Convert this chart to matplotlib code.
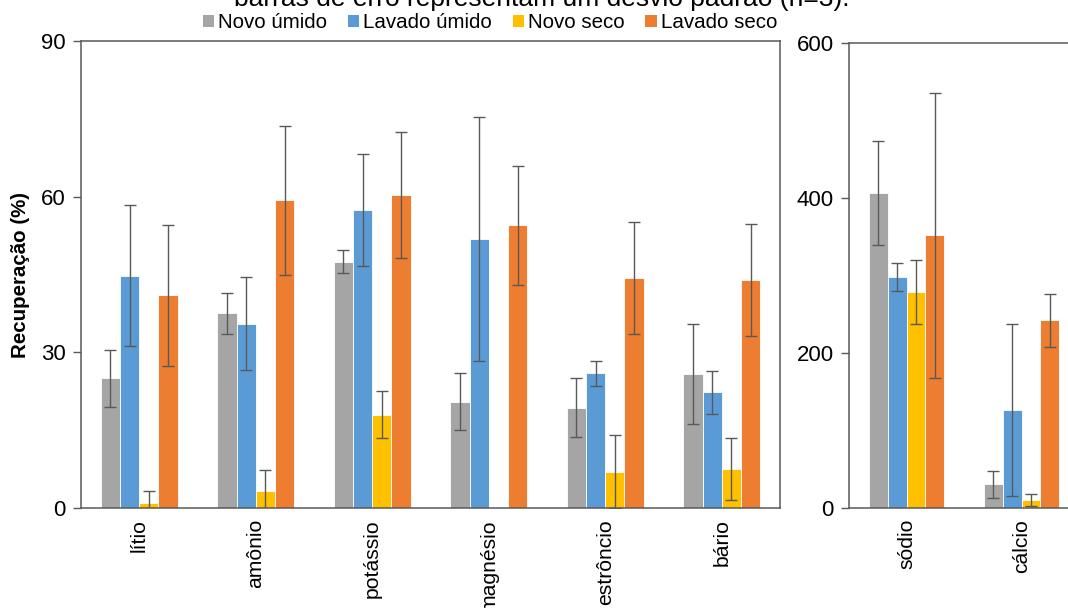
import matplotlib.pyplot as plt
import numpy as np
from matplotlib.patches import Patch

plt.rcParams['font.family'] = ['Liberation Sans', 'DejaVu Sans']

series = ["Novo úmido", "Lavado úmido", "Novo seco", "Lavado seco"]
colors = ["#A5A5A5", "#5B9BD5", "#FFC000", "#ED7D31"]

# left panel: recovery (%) per ion, mean and standard deviation
ions_a = ["lítio", "amônio", "potássio", "magnésio", "estrôncio", "bário"]
mean_a = [
    [25.0, 37.5, 47.5, 20.5, 19.3, 25.8],      # Novo úmido
    [44.8, 35.5, 57.5, 51.8, 26.0, 22.3],      # Lavado úmido
    [1.0, 3.3, 18.0, np.nan, 7.0, 7.5],        # Novo seco
    [41.0, 59.3, 60.3, 54.5, 44.3, 44.0],      # Lavado seco
]
sd_a = [
    [5.5, 4.0, 2.2, 5.5, 5.7, 9.7],
    [13.5, 9.0, 10.8, 23.5, 2.4, 4.1],
    [2.2, 4.1, 4.6, np.nan, 7.0, 5.9],
    [13.6, 14.4, 12.2, 11.5, 10.8, 10.8],
]

# right panel: sodium and calcium on their own scale
ions_b = ["sódio", "cálcio"]
mean_b = [
    [407, 30.5],
    [298, 126],
    [279, 10],
    [352, 242],
]
sd_b = [
    [67, 17.5],
    [18.5, 111],
    [41, 8],
    [184, 34],
]

W, H = 1068, 608
fig = plt.figure(figsize=(W / 100, H / 100), dpi=100)
ax1 = fig.add_axes([81 / W, 1 - 508 / H, 699 / W, 467 / H])
ax2 = fig.add_axes([849 / W, 1 - 508 / H, 230 / W, 465 / H])

spine_col = "#595959"
err_col = "#595959"
bw = 0.165


def draw_groups(ax, labels, means, sds, ymax, yticks):
    x = np.arange(len(labels))
    for i, (m, s, c) in enumerate(zip(means, sds, colors)):
        pos = x + (i - 1.5) * bw
        ax.bar(pos, m, bw, color=c, edgecolor="white", linewidth=0.6, zorder=2)
        ax.errorbar(pos, m, yerr=s, fmt="none", ecolor=err_col, elinewidth=1.0,
                    capsize=4, capthick=1.0, zorder=3)
    ax.set_xlim(-0.5, len(labels) - 0.5)
    ax.set_ylim(0, ymax)
    ax.set_yticks(yticks)
    ax.set_xticks(x)
    ax.set_xticklabels(labels, rotation=90)
    ax.tick_params(axis="x", length=0, labelsize=15.2, pad=8, colors="#000000")
    ax.tick_params(axis="y", length=6, width=1, color=spine_col, labelsize=16,
                   pad=5, labelcolor="#000000")
    for sp in ax.spines.values():
        sp.set_color(spine_col)
        sp.set_linewidth(1.1)


draw_groups(ax1, ions_a, mean_a, sd_a, 90, [0, 30, 60, 90])
draw_groups(ax2, ions_b, mean_b, sd_b, 600, [0, 200, 400, 600])
ax1.set_ylabel("Recuperação (%)", fontsize=14.8, fontweight="bold", labelpad=8)

handles = [Patch(facecolor=c, edgecolor="none") for c in colors]
fig.legend(handles, series, loc="center", bbox_to_anchor=(490 / W, 1 - 23 / H),
           ncol=4, frameon=False, fontsize=14.8, handlelength=0.55,
           handleheight=0.55, handletextpad=0.2, columnspacing=1.0)

# caption line running off the top edge
fig.text(542 / W, 1 - 6 / H, "barras de erro representam um desvio padrão (n=3).",
         ha="center", va="baseline", fontsize=19)

fig.savefig("out.png", dpi=100)
